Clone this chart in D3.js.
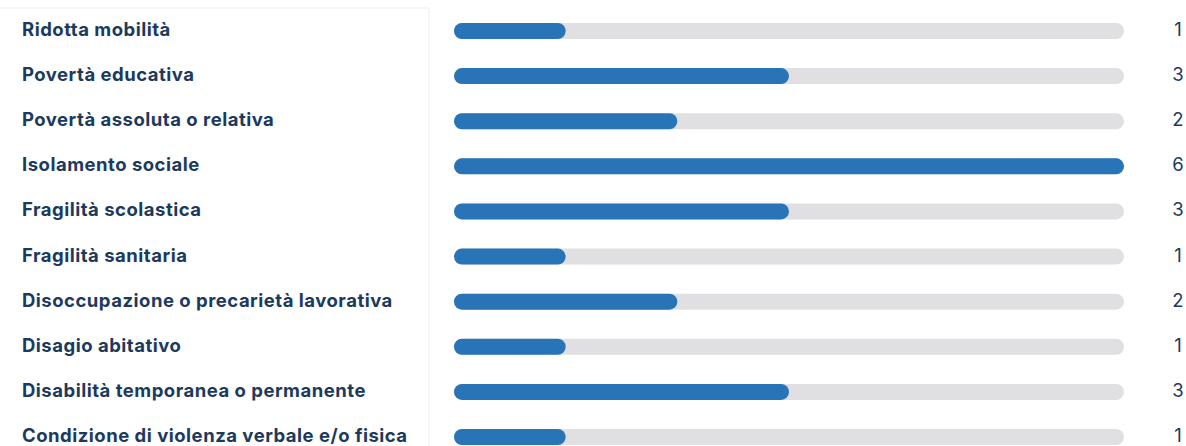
<!DOCTYPE html>
<html>
<head>
<meta charset="utf-8">
<script src="https://cdn.jsdelivr.net/npm/d3@7"></script>
<style>
  body { margin: 0; background: #fff; }
  svg { display: block; }
  .label { font-family: Inter, sans-serif; font-weight: 700; font-size: 18.5px; letter-spacing: 0.5px; fill: #1c3a5e; }
  .value { font-family: Inter, sans-serif; font-weight: 400; font-size: 18.5px; fill: #1c3a5e; }
</style>
</head>
<body>
<svg id="chart" width="1186" height="446"></svg>
<script>
const categories = [
  'Ridotta mobilità',
  'Povertà educativa',
  'Povertà assoluta o relativa',
  'Isolamento sociale',
  'Fragilità scolastica',
  'Fragilità sanitaria',
  'Disoccupazione o precarietà lavorativa',
  'Disagio abitativo',
  'Disabilità temporanea o permanente',
  'Condizione di violenza verbale e/o fisica'
];
const values = [1, 3, 2, 6, 3, 1, 2, 1, 3, 1];

const width = 1186, height = 446;
const barH = 16;

const svg = d3.select('#chart');

const xScale = d3.scaleLinear()
  .domain([0, d3.max(values)])
  .range([454, 1124]);

const yScale = d3.scalePoint()
  .domain(categories)
  .range([31, 437]);

// label panel with faint edge
svg.append('rect')
  .attr('x', -2).attr('y', 8)
  .attr('width', 431).attr('height', height)
  .attr('fill', '#fff')
  .attr('stroke', '#f3f3f5')
  .attr('stroke-width', 1.5);

const rows = svg.selectAll('.row')
  .data(categories.map((c, i) => ({ key: c, value: values[i] })))
  .enter()
  .append('g')
  .classed('row', true)
  .attr('transform', d => `translate(0, ${yScale(d.key)})`);

// baseline sits ~5px below the bar centre
rows.append('text')
  .attr('class', 'label')
  .attr('x', 22)
  .attr('y', 5)
  .text(d => d.key);

rows.append('rect')
  .attr('x', xScale(0))
  .attr('y', -barH / 2)
  .attr('width', xScale(d3.max(values)) - xScale(0))
  .attr('height', barH)
  .attr('rx', barH / 2)
  .attr('fill', '#e0e0e2');

rows.append('rect')
  .attr('x', xScale(0))
  .attr('y', -barH / 2)
  .attr('width', d => xScale(d.value) - xScale(0))
  .attr('height', barH)
  .attr('rx', barH / 2)
  .attr('fill', '#2874b7');

rows.append('text')
  .attr('class', 'value')
  .attr('x', 1178)
  .attr('y', 5)
  .attr('text-anchor', 'middle')
  .text(d => d.value);
</script>
</body>
</html>
